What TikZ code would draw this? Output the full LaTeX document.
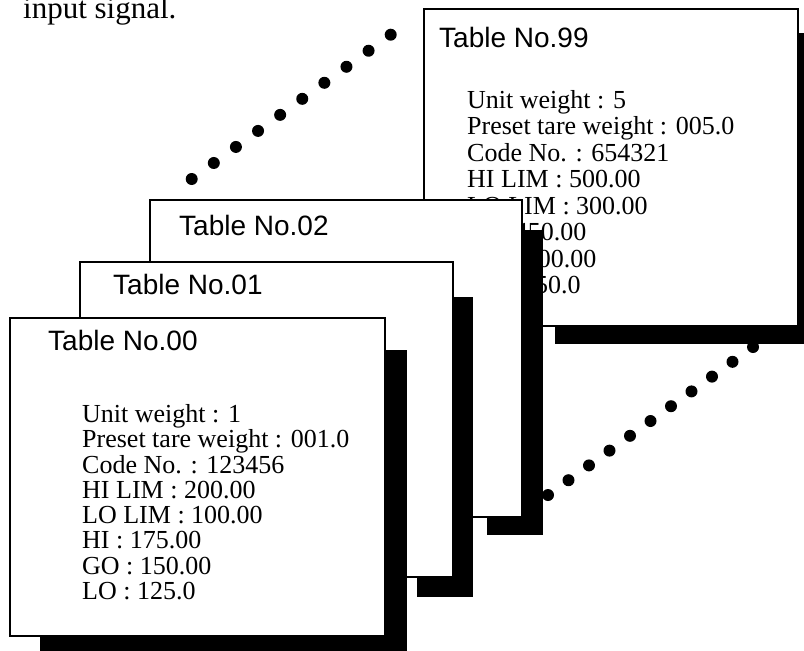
\documentclass[tikz,border=0pt]{standalone}
\usepackage{fontspec}
\setmainfont{Liberation Serif}
\setsansfont{Liberation Sans}
\usetikzlibrary{calc}
\begin{document}
\begin{tikzpicture}[x=1pt,y=-1pt,
  card/.style={draw=black, line width=2pt, fill=white, anchor=north west, inner sep=0pt, outer sep=0pt},
  shadowfill/.style={fill=black},
  ttl/.style={anchor=base west, inner sep=0pt, font=\sffamily\fontsize{28}{30}\selectfont},
  bodytext/.style={anchor=base west, inner sep=0pt},
  dotfill/.style={fill=black}]
\useasboundingbox (0,0) rectangle (804,651);
\fill[white] (0,0) rectangle (804,651);

% cut-off paragraph text
\node[anchor=base west, inner sep=0pt, font=\fontsize{31}{33}\selectfont] (para) at (23,18) {input signal.};

% dotted ellipsis lines
\coordinate (ua) at (191.7,179);
\coordinate (ub) at (390.7,34.7);
\foreach \i in {0,...,9} \fill[dotfill] ($(ua)!\i/9!(ub)$) circle (6pt);
\coordinate (la) at (548,495);
\coordinate (lb) at (753,347);
\foreach \i in {0,...,10} \fill[dotfill] ($(la)!\i/10!(lb)$) circle (6pt);

% Table No.99
\fill[shadowfill] (555,326) rectangle (820,344);
\fill[shadowfill] (798,33) rectangle (820,344);
\node[card, minimum width=374pt, minimum height=317pt] (t99) at (424,9) {};
\node[ttl] (t99title) at (439,47) {Table No.99};
\node[bodytext, font=\fontsize{26}{26.5}\selectfont] (t99body) at (467,108) {\begin{tabular}[t]{@{}l@{}}
Unit weight : 5\\
Preset tare weight : 005.0\\
Code No. : 654321\\
HI LIM : 500.00\\
LO LIM : 300.00\\
HI : 450.00\\
GO : 400.00\\
LO : 350.0
\end{tabular}};

% Table No.02
\fill[shadowfill] (522,230) rectangle (543,535);
\fill[shadowfill] (487,517) rectangle (543,535);
\node[card, minimum width=372pt, minimum height=317pt] (t02) at (150,200) {};
\node[ttl] (t02title) at (179,235) {Table No.02};

% Table No.01
\fill[shadowfill] (453,297) rectangle (473,597);
\fill[shadowfill] (417,577) rectangle (473,597);
\node[card, minimum width=373pt, minimum height=315pt] (t01) at (80,262) {};
\node[ttl] (t01title) at (113,294) {Table No.01};

% Table No.00
\fill[shadowfill] (385,350) rectangle (407,660);
\fill[shadowfill] (40,636) rectangle (407,660);
\node[card, minimum width=375pt, minimum height=318pt] (t00) at (10,318) {};
\node[ttl] (t00title) at (48,350) {Table No.00};
\node[bodytext, font=\fontsize{26}{25.2}\selectfont] (t00body) at (82,422) {\begin{tabular}[t]{@{}l@{}}
Unit weight : 1\\
Preset tare weight : 001.0\\
Code No. : 123456\\
HI LIM : 200.00\\
LO LIM : 100.00\\
HI : 175.00\\
GO : 150.00\\
LO : 125.0
\end{tabular}};
\end{tikzpicture}
\end{document}
